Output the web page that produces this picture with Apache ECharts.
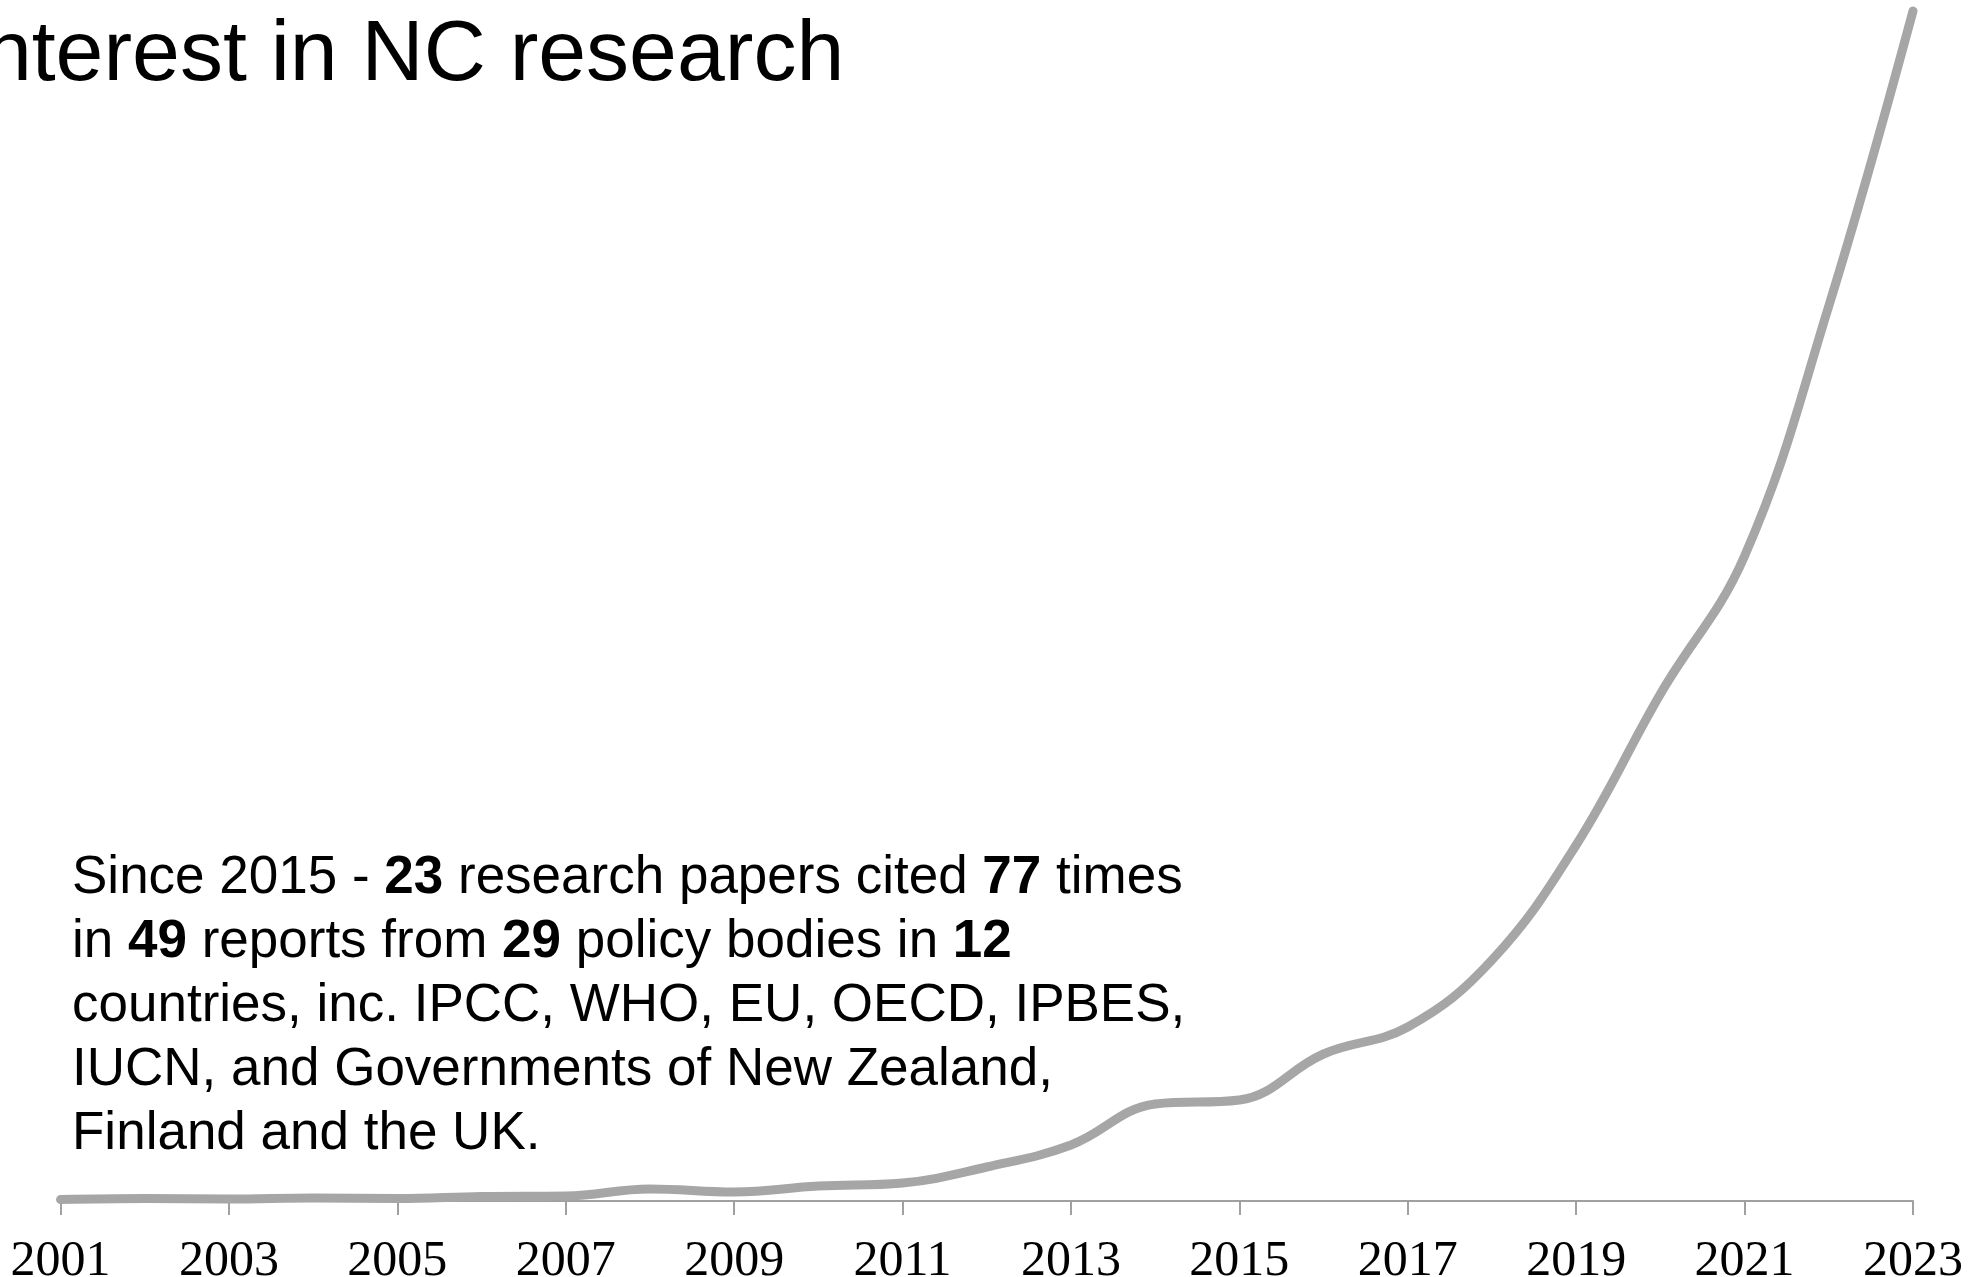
<!DOCTYPE html>
<html>
<head>
<meta charset="utf-8">
<title>Interest in NC research</title>
<script src="https://cdn.jsdelivr.net/npm/echarts@6/dist/echarts.min.js"></script>
<style>
  html, body { margin: 0; padding: 0; background: #fff; }
  #chart { width: 1987px; height: 1277px; }
</style>
</head>
<body>
<div id="chart"></div>
<script>
// years on the x axis (labels shown every 2nd year)
const years = ['2001','2002','2003','2004','2005','2006','2007','2008','2009','2010','2011','2012',
               '2013','2014','2015','2016','2017','2018','2019','2020','2021','2022','2023'];
// interest (relative units)
const interest = [1.5, 2.5, 2, 3, 2.5, 4.5, 5, 12, 9, 15, 18, 34,
                  56, 97, 101, 147, 174, 241, 356, 507, 645, 895, 1190];

const titleText = 'Interest in NC research';
// annotation lines, bold numbers marked with {b|..}
const noteLines = [
  '{n|Since 2015 - }{b|23}{n| research papers cited }{b|77}{n| times}',
  '{n|in }{b|49}{n| reports from }{b|29}{n| policy bodies in }{b|12}',
  '{n|countries, inc. IPCC, WHO, EU, OECD, IPBES,}',
  '{n|IUCN, and Governments of New Zealand,}',
  '{n|Finland and the UK.}'
];

const chart = echarts.init(document.getElementById('chart'));

const option = {
  backgroundColor: '#ffffff',
  animation: false,
  grid: { left: 60.5, right: 74, top: 0, bottom: 76, outerBoundsMode: 'none' },
  xAxis: {
    type: 'category',
    data: years,
    boundaryGap: false,
    axisLine: { lineStyle: { color: '#a0a0a0', width: 2 } },
    axisTick: { interval: 1, length: 14, lineStyle: { color: '#a0a0a0', width: 2 } },
    axisLabel: {
      interval: 1,
      margin: 36,
      color: '#000',
      fontFamily: '"Liberation Serif", "Times New Roman", serif',
      fontSize: 50,
      lineHeight: 50
    },
    splitLine: { show: false }
  },
  yAxis: {
    type: 'value',
    min: 0,
    max: 1201,
    show: false,
    splitLine: { show: false }
  },
  series: [
    {
      type: 'line',
      data: interest,
      smooth: 0.4,
      symbol: 'none',
      lineStyle: { color: '#a6a6a6', width: 9, cap: 'round', join: 'round' }
    }
  ],
  graphic: [
    {
      type: 'text',
      x: -40,
      y: 13,
      style: {
        text: titleText,
        fontFamily: '"Liberation Sans", Arial, sans-serif',
        fontSize: 86,
        lineHeight: 86,
        fill: '#000',
        verticalAlign: 'top'
      }
    },
    {
      type: 'text',
      x: 72,
      y: 846,
      style: {
        text: noteLines.join('\n'),
        verticalAlign: 'top',
        rich: {
          n: { fontFamily: '"Liberation Sans", Arial, sans-serif', fontSize: 53, lineHeight: 64, color: '#000' },
          b: { fontFamily: '"Liberation Sans", Arial, sans-serif', fontSize: 53, lineHeight: 64, fontWeight: 'bold', color: '#000' }
        }
      }
    }
  ]
};

chart.setOption(option);
window.addEventListener('resize', () => chart.resize());
</script>
</body>
</html>
